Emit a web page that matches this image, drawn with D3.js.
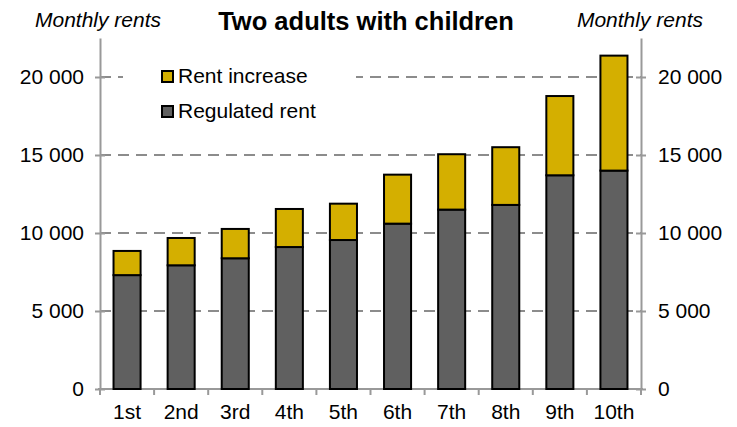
<!DOCTYPE html>
<html>
<head>
<meta charset="utf-8">
<script src="https://cdn.jsdelivr.net/npm/d3@7"></script>
<style>
  html, body { margin: 0; padding: 0; background: #fff; }
  svg { display: block; font-family: "Liberation Sans", Arial, sans-serif; }
</style>
</head>
<body>
<svg id="chart" width="737" height="427"></svg>
<script>
// Income deciles and monthly rents (NOK)
const deciles = ["1st", "2nd", "3rd", "4th", "5th", "6th", "7th", "8th", "9th", "10th"];
const regulatedRent = [7300, 7930, 8380, 9100, 9550, 10600, 11500, 11800, 13700, 14000];
const rentIncrease = [1550, 1750, 1880, 2440, 2330, 3140, 3550, 3700, 5080, 7370];
const yTicks = [0, 5000, 10000, 15000, 20000];
const seriesNames = ["Regulated rent", "Rent increase"];
const seriesColors = ["#606060", "#d4af00"];

const svg = d3.select("#chart");
const left = 100, right = 641, bottom = 389;
const fontSize = 21;

const rows = deciles.map((d, i) => ({ decile: d, "Regulated rent": regulatedRent[i], "Rent increase": rentIncrease[i] }));
const stacked = d3.stack().keys(seriesNames)(rows);

const x = d3.scaleBand().domain(deciles).range([left, right]).paddingInner(0.5).paddingOuter(0.25);
const y = d3.scaleLinear().domain([0, 22500]).range([bottom, bottom - 312 * 22500 / 20000]);

// Gridlines
svg.append("g").selectAll("line").data(yTicks.filter(t => t > 0)).join("line")
  .attr("x1", left).attr("x2", right)
  .attr("y1", d => y(d)).attr("y2", d => y(d))
  .attr("stroke", "#8c8c8c").attr("stroke-width", 2).attr("stroke-dasharray", "11,7");

// Legend background knocks out the top gridline
svg.append("rect").attr("x", 123).attr("y", 60).attr("width", 233).attr("height", 62).attr("fill", "#fff");

// Axes
const fmt = d => d === 0 ? "0" : d3.format(",")(d).replace(/,/g, " ");
const axisColor = "#999";

function styleAxis(g) {
  g.selectAll("path, line").attr("stroke", axisColor).attr("stroke-width", 2);
  g.selectAll("text").attr("fill", "#000").attr("font-size", fontSize);
  g.attr("font-family", null);
}

svg.append("g").attr("transform", `translate(${left},0)`)
  .call(d3.axisLeft(y).tickValues(yTicks).tickFormat(fmt).tickSizeOuter(0).tickSizeInner(6).tickPadding(10))
  .call(styleAxis)
  .call(g => g.selectAll(".tick line").attr("x1", -5).attr("x2", 5));

svg.append("g").attr("transform", `translate(${right},0)`)
  .call(d3.axisRight(y).tickValues(yTicks).tickFormat(fmt).tickSizeOuter(0).tickSizeInner(6).tickPadding(11))
  .call(styleAxis)
  .call(g => g.selectAll(".tick line").attr("x1", -5).attr("x2", 5));

// Category axis with ticks at band boundaries
const xAxisG = svg.append("g").attr("transform", `translate(0,${bottom})`);
xAxisG.append("line").attr("x1", left - 2).attr("x2", right + 2).attr("stroke", axisColor).attr("stroke-width", 2);
const step = x.step();
xAxisG.selectAll("line.tk").data(d3.range(deciles.length + 1)).join("line").attr("class", "tk")
  .attr("x1", i => left + i * step).attr("x2", i => left + i * step)
  .attr("y1", 0).attr("y2", 6).attr("stroke", axisColor).attr("stroke-width", 2);
xAxisG.selectAll("text").data(deciles).join("text")
  .attr("x", d => x(d) + x.bandwidth() / 2).attr("y", 30)
  .attr("text-anchor", "middle").attr("font-size", fontSize).text(d => d);

// Stacked bars
svg.append("g").selectAll("g").data(stacked).join("g")
  .attr("fill", (s, i) => seriesColors[i])
  .selectAll("rect").data(s => s).join("rect")
  .attr("x", d => x(d.data.decile)).attr("width", x.bandwidth())
  .attr("y", d => y(d[1])).attr("height", d => y(d[0]) - y(d[1]))
  .attr("stroke", "#000").attr("stroke-width", 2);

// Legend
const legendItems = [{ name: "Rent increase", color: seriesColors[1] }, { name: "Regulated rent", color: seriesColors[0] }];
const lg = svg.append("g").selectAll("g").data(legendItems).join("g")
  .attr("transform", (d, i) => `translate(162,${71 + i * 35})`);
lg.append("rect").attr("width", 11).attr("height", 11).attr("fill", d => d.color).attr("stroke", "#000").attr("stroke-width", 2);
lg.append("text").attr("x", 16).attr("y", 12).attr("font-size", fontSize).text(d => d.name);

// Titles
svg.append("text").attr("x", 366).attr("y", 30).attr("text-anchor", "middle")
  .attr("font-size", 25.5).attr("font-weight", "bold").text("Two adults with children");
svg.append("text").attr("x", 35).attr("y", 27).attr("font-size", fontSize).attr("font-style", "italic").text("Monthly rents");
svg.append("text").attr("x", 703).attr("y", 27).attr("text-anchor", "end").attr("font-size", fontSize).attr("font-style", "italic").text("Monthly rents");
</script>
</body>
</html>
